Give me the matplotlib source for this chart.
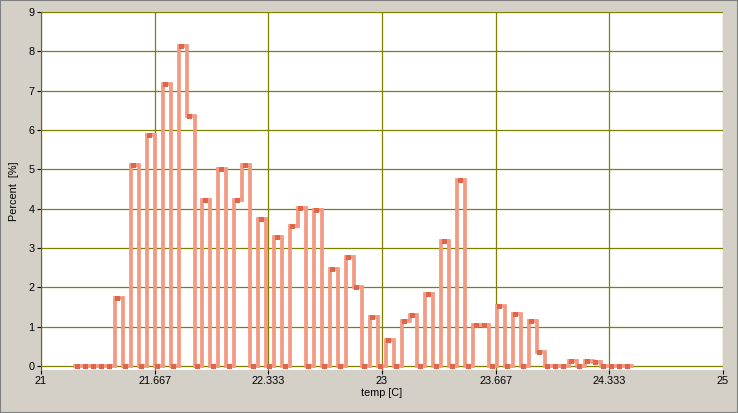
import numpy as np
import matplotlib
matplotlib.use("Agg")
import matplotlib.pyplot as plt
from matplotlib.patches import Rectangle

# histogram bins (temp [C]) and percent per bin
bin_start = 21.2
bin_width = 0.0467
percent = [0, 0, 0, 0, 0, 1.73, 0, 5.10, 0, 5.88,
           0, 7.17, 0, 8.13, 6.36, 0, 4.23, 0, 5.02, 0,
           4.23, 5.10, 0, 3.75, 0, 3.27, 0, 3.55, 4.03, 0,
           3.96, 0, 2.48, 0, 2.78, 2.00, 0, 1.24, 0, 0.66,
           0, 1.15, 1.31, 0, 1.82, 0, 3.17, 0, 4.72, 0,
           1.05, 1.05, 0, 1.53, 0, 1.32, 0, 1.14, 0.35, 0,
           0, 0, 0.12, 0, 0.12, 0.10, 0, 0, 0, 0]

x_ticks = [21, 21.667, 22.333, 23, 23.667, 24.333, 25]
x_tick_labels = ["21", "21.667", "22.333", "23", "23.667", "24.333", "25"]
y_ticks = list(range(0, 10))

bg = "#d4d0c8"
line_col = "#f29a82"
mark_col = "#e0664a"
grid_col = "#808000"

plt.rcParams['font.family'] = ['Liberation Sans', 'DejaVu Sans']

fig = plt.figure(figsize=(7.38, 4.13), dpi=100, facecolor=bg)
ax = fig.add_axes([41/738, 1 - 370/413, (723-41)/738, (370-12)/413])
ax.set_facecolor("white")

vals = np.array(percent)
edges = bin_start + bin_width*np.arange(len(vals)+1)
ax.step(edges, np.append(vals, vals[-1]), where="post", color=line_col,
        lw=2.7, solid_joinstyle="miter", zorder=3)
ax.plot(edges[:-1] + bin_width*0.3, vals, ls="none", marker="s", ms=3.6,
        mew=0, color=mark_col, zorder=4)

ax.set_xlim(21, 25)
ax.set_ylim(-0.1, 9)
ax.set_xticks(x_ticks)
ax.set_xticklabels(x_tick_labels)
ax.set_yticks(y_ticks)
ax.grid(True, color=grid_col, lw=0.9, zorder=1)
ax.set_axisbelow(True)

for s in ["top", "right", "bottom"]:
    ax.spines[s].set_visible(False)
ax.spines["left"].set_color("#606060")
ax.spines["left"].set_linewidth(0.8)
ax.tick_params(axis="both", length=3, width=0.8, color="black",
               labelsize=7.8, pad=1.5)

ax.set_xlabel("temp [C]", fontsize=7.8, labelpad=1)
ax.set_ylabel("Percent  [%]", fontsize=7.8, labelpad=7)

fig.patches.append(Rectangle((0, 0), 1, 1, transform=fig.transFigure,
                             fill=False, edgecolor="#808080", lw=1.5))

fig.savefig("out.png", dpi=100, facecolor=bg)
